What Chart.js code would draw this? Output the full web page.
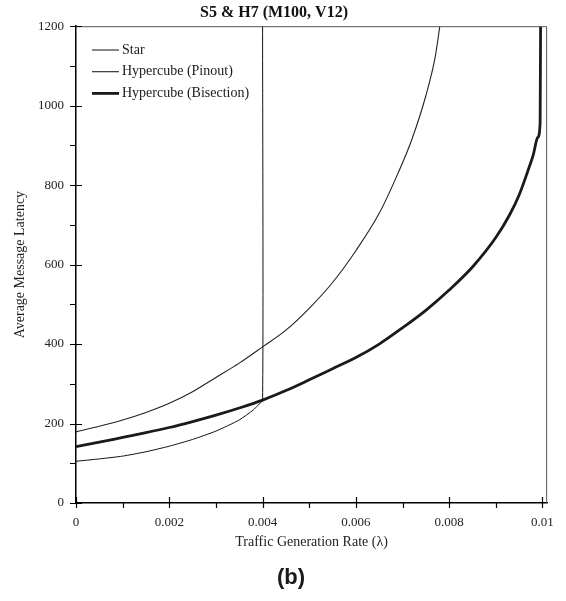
<!DOCTYPE html>
<html>
<head>
<meta charset="utf-8">
<script src="https://cdn.jsdelivr.net/npm/chart.js@4"></script>
<style>
    html, body { margin: 0; padding: 0; background: #fff; }
    #wrap { width: 566px; height: 601px; }
</style>
</head>
<body>
<div id="wrap"><canvas id="chart"></canvas></div>
<script>
// values
const starX = [0, 0.0005, 0.001, 0.0015, 0.002, 0.0025, 0.003, 0.0035, 0.0038, 0.0039, 0.004, 0.004];
const starY = [105, 111, 118, 129, 143, 160, 181, 209, 234, 246, 259, 1200];

const pinoutX = [0, 0.0005, 0.001, 0.0015, 0.002, 0.0025, 0.003, 0.0035, 0.004, 0.0045, 0.005, 0.0055, 0.006, 0.0065, 0.0069, 0.0072, 0.0075, 0.0077, 0.0078];
const pinoutY = [179, 193, 209, 228, 251, 280, 316, 352, 393, 435, 490, 555, 635, 729, 829, 915, 1025, 1122, 1200];

const bisectionX = [0, 0.0005, 0.001, 0.0015, 0.002, 0.0025, 0.003, 0.0035, 0.004, 0.0045, 0.005, 0.0055, 0.006, 0.0065, 0.007, 0.0075, 0.008, 0.0085, 0.009, 0.0093, 0.0095, 0.0097, 0.0098, 0.0099, 0.00995, 0.00996];
const bisectionY = [142, 153, 165, 177, 190, 205, 221, 239, 259, 283, 310, 338, 366, 400, 441, 485, 536, 594, 668, 726, 775, 840, 875, 920, 955, 1200];

const seriesLabels = ['Star', 'Hypercube (Pinout)', 'Hypercube (Bisection)'];

const SERIF = '"Liberation Serif", "DejaVu Serif", serif';

const toPoints = (xs, ys) => xs.map((x, i) => ({ x, y: ys[i] }));

/**
 * Draws the crossing tick marks, the grey frame, the legend and the panel tag.
 */
const decorations = {
    id: 'decorations',
    afterDraw(chart) {
        const { ctx, chartArea, scales: { x, y } } = chart;
        ctx.save();

        // top and right frame
        ctx.strokeStyle = '#555';
        ctx.lineWidth = 1;
        ctx.beginPath();
        ctx.moveTo(chartArea.left, chartArea.top + 0.5);
        ctx.lineTo(chartArea.right - 0.5, chartArea.top + 0.5);
        ctx.lineTo(chartArea.right - 0.5, chartArea.bottom);
        ctx.stroke();

        // tick marks
        ctx.strokeStyle = '#000';
        ctx.lineWidth = 1.2;
        ctx.beginPath();
        for (let v = 0; v <= 1200; v += 100) {
            const py = Math.round(y.getPixelForValue(v)) + 0.5;
            const major = v % 200 === 0;
            ctx.moveTo(chartArea.left - 6, py);
            ctx.lineTo(chartArea.left + (major ? 6 : 0), py);
        }
        for (let i = 0; i <= 10; i++) {
            const px = Math.round(x.getPixelForValue(i * 0.001)) + 0.5;
            const major = i % 2 === 0;
            ctx.moveTo(px, chartArea.bottom + 5);
            ctx.lineTo(px, chartArea.bottom - (major ? 6 : 0));
        }
        ctx.stroke();

        // legend
        const lx = chartArea.left + 16;
        let ly = 50;
        ctx.font = '14px ' + SERIF;
        ctx.textBaseline = 'middle';
        ctx.textAlign = 'left';
        chart.data.datasets.forEach((ds) => {
            ctx.strokeStyle = ds.borderColor;
            ctx.lineWidth = ds.borderWidth;
            ctx.beginPath();
            ctx.moveTo(lx, ly);
            ctx.lineTo(lx + 27, ly);
            ctx.stroke();
            ctx.fillStyle = '#1a1a1a';
            ctx.fillText(ds.label, lx + 30, ly);
            ly += 21.7;
        });

        // panel tag
        ctx.fillStyle = '#1a1a1a';
        ctx.font = 'bold 22px "Liberation Sans", Arial, sans-serif';
        ctx.textAlign = 'center';
        ctx.fillText('(b)', 291, 578);

        ctx.restore();
    }
};

const formatRate = (v) => {
    const k = Math.round(v * 1000);
    return k % 2 === 0 ? String(+(k / 1000).toFixed(4)) : '';
};

new Chart(document.getElementById('chart'), {
    type: 'line',
    data: {
        datasets: [{
            label: seriesLabels[0],
            data: toPoints(starX, starY),
            borderColor: '#111',
            borderWidth: 1,
            tension: 0.2
        }, {
            label: seriesLabels[1],
            data: toPoints(pinoutX, pinoutY),
            borderColor: '#222',
            borderWidth: 1.1,
            cubicInterpolationMode: 'monotone'
        }, {
            label: seriesLabels[2],
            data: toPoints(bisectionX, bisectionY),
            borderColor: '#1a1a1a',
            borderWidth: 2.8,
            cubicInterpolationMode: 'monotone'
        }]
    },
    options: {
        responsive: true,
        maintainAspectRatio: false,
        animation: false,
        events: [],
        elements: { point: { radius: 0 } },
        layout: { padding: { left: 0, right: 18, top: 0, bottom: 50.6 } },
        plugins: {
            legend: { display: false },
            tooltip: { enabled: false },
            title: {
                display: true,
                text: 'S5 & H7 (M100, V12)',
                color: '#111',
                font: { family: SERIF, size: 16, weight: 'bold' },
                padding: { top: 3, bottom: 4 }
            }
        },
        scales: {
            x: {
                type: 'linear',
                min: 0,
                max: 0.0101,
                afterBuildTicks: (scale) => {
                    scale.ticks = scale.ticks.filter((t) => t.value <= 0.01 + 1e-9);
                },
                afterFit: (scale) => { scale.height = 47.4; },
                grid: { display: false, drawTicks: false },
                border: { display: true, color: '#000', width: 1.5 },
                ticks: {
                    stepSize: 0.001,
                    includeBounds: false,
                    autoSkip: false,
                    maxRotation: 0,
                    padding: 12,
                    color: '#222',
                    font: { family: SERIF, size: 13 },
                    callback: formatRate
                },
                title: {
                    display: true,
                    text: 'Traffic Generation Rate (λ)',
                    color: '#222',
                    font: { family: SERIF, size: 14 },
                    padding: { top: 3, bottom: 0 }
                }
            },
            y: {
                min: 0,
                max: 1200,
                afterFit: (scale) => { scale.width = 76; },
                grid: { display: false, drawTicks: false },
                border: { display: true, color: '#000', width: 1.5 },
                ticks: {
                    stepSize: 100,
                    autoSkip: false,
                    padding: 12,
                    color: '#222',
                    font: { family: SERIF, size: 13 },
                    callback: (v) => (v % 200 === 0 ? String(v) : '')
                },
                title: {
                    display: true,
                    text: 'Average Message Latency',
                    color: '#222',
                    font: { family: SERIF, size: 14 },
                    padding: { top: 11.6, bottom: 0 }
                }
            }
        }
    },
    plugins: [decorations]
});
</script>
</body>
</html>
